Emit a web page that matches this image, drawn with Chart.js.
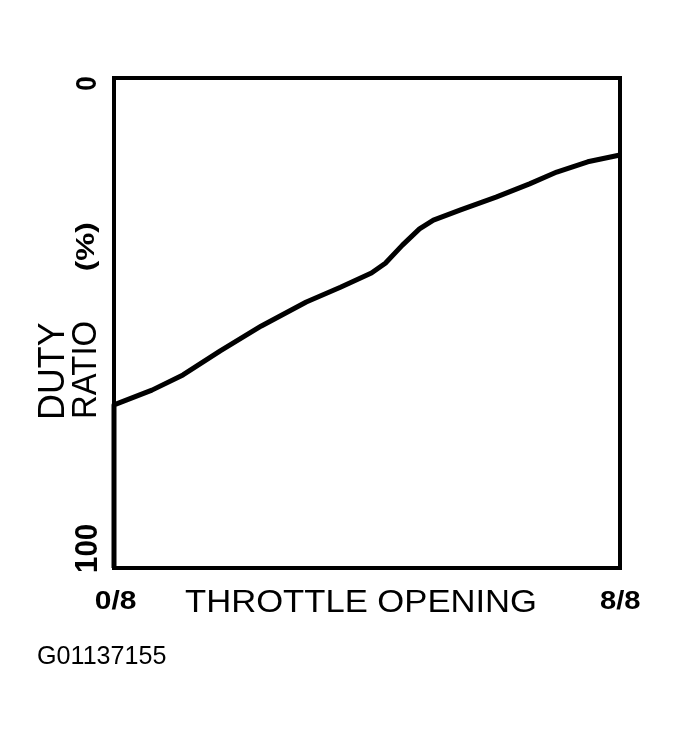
<!DOCTYPE html>
<html>
<head>
<meta charset="utf-8">
<title>Duty Ratio vs Throttle Opening</title>
<script src="https://cdn.jsdelivr.net/npm/chart.js@4/dist/chart.umd.min.js"></script>
<style>
  html, body { margin: 0; padding: 0; background: #fff; }
  #wrap { width: 679px; height: 735px; position: relative; }
</style>
</head>
<body>
<div id="wrap"><canvas id="dutyChart"></canvas></div>
<script>
// Throttle opening in eighths (0/8 .. 8/8)
const throttleOpening = [0, 0, 0.6, 1.09, 1.68, 2.33, 3.04, 3.58, 4.07, 4.29, 4.56, 4.83, 5.05, 5.48, 6.04, 6.57, 7.0, 7.49, 8];
// Duty ratio in %, 0 at the top, 100 at the bottom
const dutyRatio = [100, 66.7, 63.7, 60.6, 55.7, 50.6, 45.7, 42.7, 39.8, 37.8, 34.1, 30.8, 29.0, 26.9, 24.3, 21.6, 19.2, 17.1, 15.7];

const xTickLabels = ['0/8', '8/8'];
const yTickLabels = ['0', '100'];
const xTitle = 'THROTTLE OPENING';
const yTitleLines = ['DUTY', 'RATIO'];
const yUnit = '(%)';
const figureCode = 'G01137155';

const FONT = '"Liberation Sans", Arial, Helvetica, sans-serif';

// Draw text so that its ink starts at x0 and is exactly inkWidth wide
function drawFit(ctx, text, x0, baseline, inkWidth) {
  const m = ctx.measureText(text);
  const w = m.actualBoundingBoxLeft + m.actualBoundingBoxRight;
  ctx.save();
  ctx.translate(x0, baseline);
  ctx.scale(inkWidth / w, 1);
  ctx.fillText(text, m.actualBoundingBoxLeft, 0);
  ctx.restore();
}

// Frame and all labels
const labelsPlugin = {
  id: 'labels',
  afterDatasetsDraw(chart) {
    const ctx = chart.ctx;
    const area = chart.chartArea;

    ctx.save();
    ctx.strokeStyle = '#000';
    ctx.lineWidth = 4;
    ctx.strokeRect(area.left, area.top, area.right - area.left, area.bottom - area.top);

    ctx.fillStyle = '#000';
    ctx.textAlign = 'left';
    ctx.textBaseline = 'alphabetic';

    // x tick labels
    ctx.font = 'bold 26px ' + FONT;
    drawFit(ctx, xTickLabels[0], 96, 609, 40);
    drawFit(ctx, xTickLabels[1], 600, 609, 40);

    // x title
    ctx.font = '32px ' + FONT;
    drawFit(ctx, xTitle, 185, 612, 350);

    // figure code
    ctx.font = '26px ' + FONT;
    drawFit(ctx, figureCode, 38, 664, 128);

    // rotated y labels (u = -canvas y, v = canvas x)
    ctx.save();
    ctx.rotate(-Math.PI / 2);
    ctx.font = 'bold 30px ' + FONT;
    drawFit(ctx, yTickLabels[0], -90, 96, 13);
    ctx.font = 'bold 31px ' + FONT;
    drawFit(ctx, yTickLabels[1], -572, 97, 47);

    ctx.font = '37px ' + FONT;
    drawFit(ctx, yTitleLines[0], -417, 64, 94);
    ctx.font = '35px ' + FONT;
    drawFit(ctx, yTitleLines[1], -417, 96, 95);

    ctx.font = 'bold 26px ' + FONT;
    drawFit(ctx, yUnit, -270, 94, 47);
    ctx.restore();

    ctx.restore();
  }
};

const points = throttleOpening.map((x, i) => ({ x: x, y: dutyRatio[i] }));

new Chart(document.getElementById('dutyChart').getContext('2d'), {
  type: 'line',
  data: {
    datasets: [{
      data: points,
      borderColor: '#000',
      borderWidth: 5,
      borderJoinStyle: 'round',
      pointRadius: 0,
      tension: 0,
      fill: false,
      clip: false
    }]
  },
  options: {
    responsive: true,
    maintainAspectRatio: false,
    animation: false,
    layout: {
      padding: { left: 114, right: 59, top: 78, bottom: 167 }
    },
    plugins: {
      legend: { display: false },
      tooltip: { enabled: false }
    },
    scales: {
      x: { type: 'linear', min: 0, max: 8, display: false },
      y: { type: 'linear', min: 0, max: 100, reverse: true, display: false }
    }
  },
  plugins: [labelsPlugin]
});
</script>
</body>
</html>
